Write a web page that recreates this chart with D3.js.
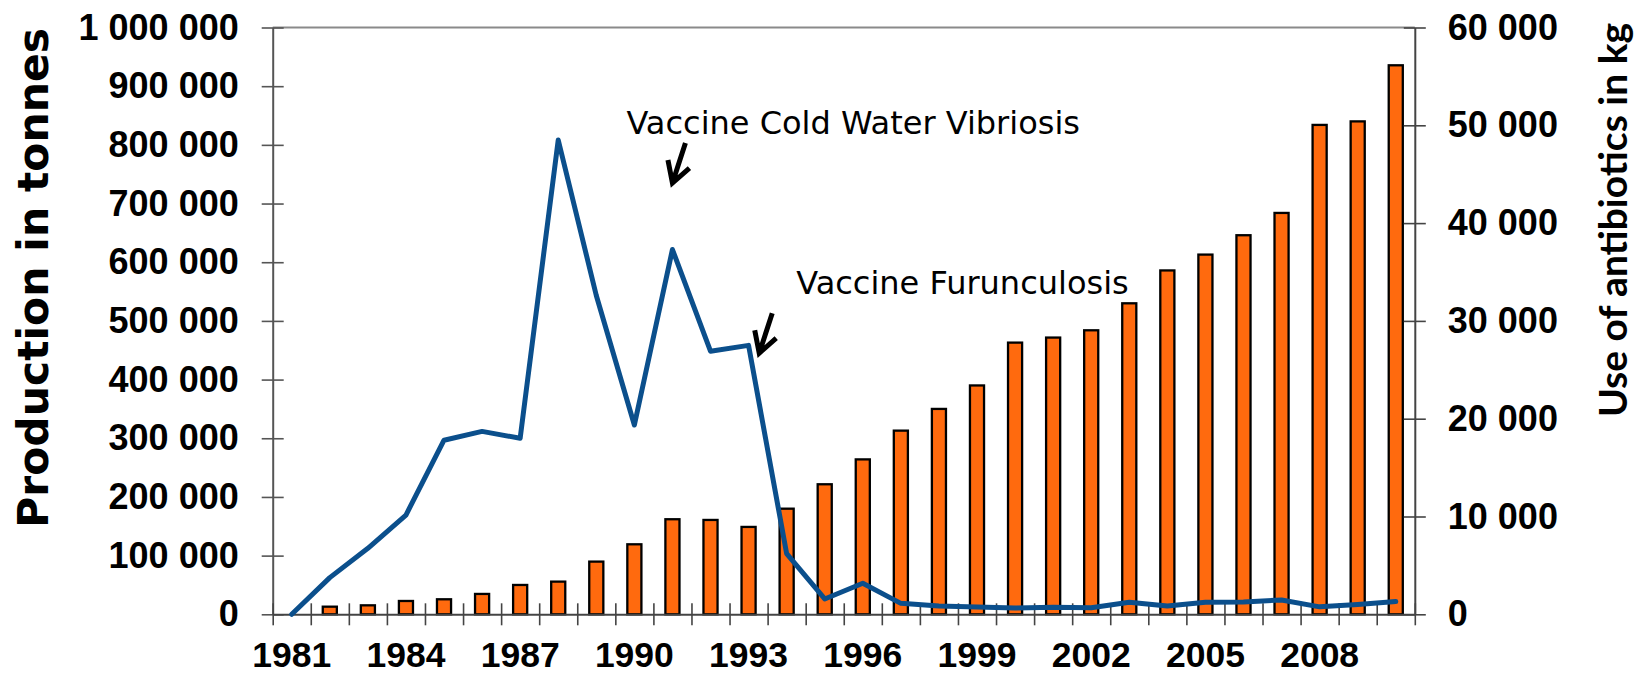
<!DOCTYPE html>
<html>
<head>
<meta charset="utf-8">
<script src="https://cdn.jsdelivr.net/npm/d3@7"></script>
<style>
  body { margin: 0; background: #fff; }
  svg { display: block; }
</style>
</head>
<body>
<script>
// data
const years = [1981, 1982, 1983, 1984, 1985, 1986, 1987, 1988, 1989, 1990,
               1991, 1992, 1993, 1994, 1995, 1996, 1997, 1998, 1999, 2000,
               2001, 2002, 2003, 2004, 2005, 2006, 2007, 2008, 2009, 2010]

// production in tonnes (bars, left axis)
const production = [null, 13000, 15300, 22700, 25600, 34700, 50000, 55700, 89800, 119300,
                    162000, 160800, 148900, 180000, 221600, 264000, 313000, 350000, 390000, 463000,
                    471600, 484000, 530000, 586000, 613000, 646000, 684000, 834000, 840000, 935600]

// antibiotics in kg (line, right axis)
const antibiotics = [0, 3750, 6750, 10150, 17800, 18700, 18000, 48500, 32600, 19350,
                     37300, 26900, 27500, 6200, 1570, 3170, 1120, 850, 750, 650,
                     720, 680, 1230, 850, 1230, 1260, 1470, 760, 1000, 1310]

const leftTicks = [0, 100000, 200000, 300000, 400000, 500000, 600000, 700000, 800000, 900000, 1000000]
const rightTicks = [0, 10000, 20000, 30000, 40000, 50000, 60000]
const yearLabels = [1981, 1984, 1987, 1990, 1993, 1996, 1999, 2002, 2005, 2008]

const notes = [
    { text: 'Vaccine Cold Water Vibriosis', year: 1991, at: 44100, dx: -46, dy: -49 },
    { text: 'Vaccine Furunculosis', year: 1993.28, at: 26700, dx: 37, dy: -59 }
]

const W = 1639, H = 674
const L = 272.7, R = 1414.8, T = 27.5, B = 614.3

const fmt = d3.formatLocale({ decimal: '.', thousands: ' ', grouping: [3], currency: ['', ''] }).format(',')

const svg = d3.select('body').append('svg')
    .attr('width', W)
    .attr('height', H)

const x = d3.scaleBand().domain(years).range([L, R]).paddingInner(0).paddingOuter(0)
const xLin = d3.scaleLinear().domain([0, years.length]).range([L, R])
const yL = d3.scaleLinear().domain([0, 1000000]).range([B, T])
const yR = d3.scaleLinear().domain([0, 60000]).range([B, T])

const tickFont = '"Liberation Sans", Arial, sans-serif'

// top border of plot area
svg.append('line')
    .attr('x1', L).attr('x2', R)
    .attr('y1', T).attr('y2', T)
    .attr('stroke', '#8a8a8a')
    .attr('stroke-width', 2)

// bars
const bw = x.bandwidth() * 0.37
svg.append('g')
    .selectAll('rect')
    .data(years.map((yr, i) => ({ yr, v: production[i] })).filter(d => d.v != null))
    .join('rect')
    .attr('x', d => x(d.yr) + (x.bandwidth() - bw) / 2)
    .attr('y', d => yL(d.v))
    .attr('width', bw)
    .attr('height', d => B - yL(d.v))
    .attr('fill', '#ff6a0e')
    .attr('stroke', '#000')
    .attr('stroke-width', 2.3)

// axes
function styleAxis(g, color) {
    g.select('.domain').attr('stroke', color).attr('stroke-width', 2)
    g.selectAll('.tick line').attr('stroke', color).attr('stroke-width', 1.6)
    g.selectAll('.tick text')
        .attr('fill', '#000')
        .style('font-family', tickFont)
        .style('font-weight', 'bold')
        .style('font-size', '36px')
}

const leftAxis = svg.append('g')
    .attr('transform', `translate(${L},0)`)
    .call(d3.axisLeft(yL).tickValues(leftTicks).tickFormat(fmt).tickSize(11).tickSizeOuter(0).tickPadding(23))
styleAxis(leftAxis, '#555')
leftAxis.selectAll('.tick line').attr('x2', -11).attr('x1', 11)

const rightAxis = svg.append('g')
    .attr('transform', `translate(${R},0)`)
    .call(d3.axisRight(yR).tickValues(rightTicks).tickFormat(fmt).tickSize(11).tickSizeOuter(0).tickPadding(22))
styleAxis(rightAxis, '#444')
rightAxis.selectAll('.tick line').attr('x2', 11).attr('x1', -11)

// boundary ticks of the year categories
const xTicks = svg.append('g')
    .attr('transform', `translate(0,${B})`)
    .call(d3.axisBottom(xLin).ticks(years.length).tickFormat('').tickSize(11).tickSizeOuter(0))
styleAxis(xTicks, '#444')
xTicks.selectAll('.tick line').attr('y1', -11).attr('y2', 11)

// year labels
const xLabels = svg.append('g')
    .attr('transform', `translate(0,${B})`)
    .call(d3.axisBottom(x).tickValues(yearLabels).tickSize(0).tickPadding(27))
styleAxis(xLabels, '#444')
xLabels.select('.domain').remove()
xLabels.selectAll('.tick text').style('font-size', '35.5px')

// antibiotics line
svg.append('path')
    .datum(antibiotics)
    .attr('fill', 'none')
    .attr('stroke', '#0b4f8c')
    .attr('stroke-width', 5)
    .attr('stroke-linejoin', 'round')
    .attr('stroke-linecap', 'round')
    .attr('d', d3.line()
        .x((d, i) => x(years[i]) + x.bandwidth() / 2)
        .y(d => yR(d)))

// annotations with arrows
const yearX = yr => xLin(yr - years[0] + 0.5)
notes.forEach(n => {
    const tx = yearX(n.year), ty = yR(n.at)
    svg.append('text')
        .attr('x', tx + n.dx)
        .attr('y', ty + n.dy)
        .style('font-family', '"DejaVu Sans", Verdana, sans-serif')
        .style('font-size', '32px')
        .attr('fill', '#000')
        .text(n.text)
    svg.append('path')
        .attr('d', `M${tx + 13},${ty - 40}L${tx},${ty}M${tx - 4.5},${ty - 23}L${tx},${ty}L${tx + 17},${ty - 15}`)
        .attr('fill', 'none')
        .attr('stroke', '#000')
        .attr('stroke-width', 5)
})

// axis titles
svg.append('text')
    .attr('transform', `translate(48,${(T + B) / 2 - 43}) rotate(-90)`)
    .attr('text-anchor', 'middle')
    .style('font-family', '"DejaVu Sans", Verdana, sans-serif')
    .style('font-weight', 'bold')
    .style('font-size', '42.5px')
    .text('Production in tonnes')

svg.append('text')
    .attr('transform', `translate(1627,220) rotate(-90)`)
    .attr('text-anchor', 'middle')
    .style('font-family', 'Lato, sans-serif')
    .style('font-weight', 'bold')
    .style('font-size', '39px')
    .text('Use of antibiotics in kg')
</script>
</body>
</html>
